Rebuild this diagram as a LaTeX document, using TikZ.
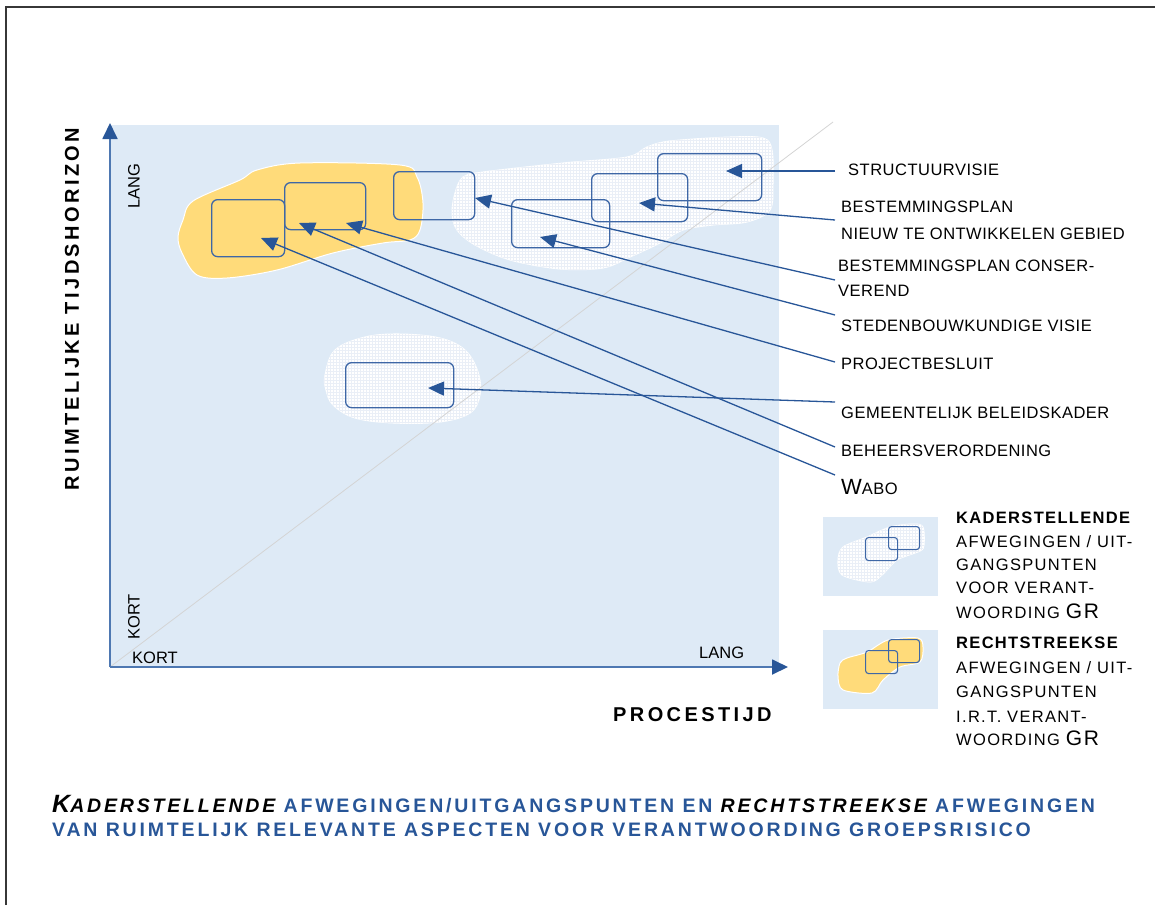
\documentclass[tikz,border=0pt]{standalone}
\usepackage{fontspec}
\setmainfont{Liberation Sans}
\newfontfamily\labfont[LetterSpace=3]{Liberation Sans}
\newfontfamily\legfont[LetterSpace=8]{Liberation Sans}
\newfontfamily\axfont[LetterSpace=17]{Liberation Sans}
\newfontfamily\capfont[LetterSpace=14.5]{Liberation Sans}
\usetikzlibrary{arrows.meta,patterns}

\definecolor{plotbg}{RGB}{222,234,246}
\definecolor{amber}{RGB}{255,219,122}
\definecolor{navy}{RGB}{40,86,152}
\definecolor{boxblue}{RGB}{62,103,166}
\definecolor{axisblue}{RGB}{78,120,178}
\definecolor{diagline}{RGB}{212,212,212}
\definecolor{gridtint}{RGB}{234,239,247}
\definecolor{framegray}{RGB}{55,55,55}

\tikzset{
  box/.style={draw=boxblue, line width=1.3pt, rounded corners=6pt, inner sep=0pt, anchor=north west},
  smallbox/.style={draw=boxblue, line width=1.1pt, rounded corners=3pt, inner sep=0pt, anchor=north west},
  ptr/.style={navy, line width=1.3pt, -{Triangle[length=16pt,width=14pt]}},
  axisarrow/.style={axisblue, line width=1.8pt, -{Triangle[length=16pt,width=15pt,color=navy]}},
  lab/.style={anchor=base west, inner sep=0pt, font=\labfont\fontsize{16.5}{18}\selectfont},
  leg/.style={anchor=base west, inner sep=0pt, font=\legfont\fontsize{16.5}{18}\selectfont},
  endlab/.style={inner sep=0pt, font=\fontsize{16.5}{18}\selectfont},
  cloud/.style={preaction={fill=white, draw=white, line width=1pt}, pattern=grid, pattern color=gridtint},
  goldcloud/.style={fill=amber, draw=white, line width=1pt},
  axtitle/.style={inner sep=0pt, font=\axfont\bfseries\fontsize{20}{20}\selectfont},
  captext/.style={anchor=base west, inner sep=0pt, text=navy, font=\capfont\bfseries\fontsize{19.5}{20}\selectfont},
}

\begin{document}
\begin{tikzpicture}[x=1pt, y=-1pt]
\useasboundingbox (0,0) rectangle (1155,905);

% page frame
\draw[framegray, line width=1.5pt] (6,905) -- (6,7) -- (1155,7);

% plot area
\fill[plotbg] (110,125) rectangle (779,667);

% clouds of considerations
\path[goldcloud] plot[smooth cycle, tension=0.55] coordinates {
  (193,201) (240,180) (257,170) (300,163) (400,165) (417,177) (423,203)
  (420,230) (410,240) (383,243) (333,253) (277,270) (227,278) (197,275)
  (182,253) (178,237) (183,220)};
\path[cloud] plot[smooth cycle, tension=0.55] coordinates {
  (452,213) (455,193) (463,177) (483,172) (563,163) (627,157) (647,147)
  (670,141) (730,137) (763,138) (772,150) (773,183) (770,210) (747,222)
  (713,225) (683,230) (660,243) (630,257) (603,268) (560,269) (510,260)
  (475,245) (457,230)};
\path[cloud] plot[smooth cycle, tension=0.6] coordinates {
  (325,375) (335,350) (365,337) (400,334) (440,338) (465,350) (478,372)
  (480,395) (470,413) (440,422) (393,423) (355,418) (333,405) (326,390)};

% diagonal reference line
\coordinate (o) at (110,667);
\coordinate (d) at (833,122);
\draw[diagline, line width=0.8pt] (o) -- (d);

% axes
\coordinate (ytip) at (110,123);
\coordinate (xtip) at (788,667);
\draw[axisarrow] (o) -- (ytip);
\draw[axisarrow] (o) -- (xtip);

% instrument boxes
\node[box, minimum width=73pt, minimum height=57pt] (wabo) at (211,199) {};
\node[box, minimum width=81pt, minimum height=47pt] (proj) at (284,182) {};
\node[box, minimum width=81pt, minimum height=48pt] (bpc) at (393,171) {};
\node[box, minimum width=98pt, minimum height=48pt] (sted) at (511,199) {};
\node[box, minimum width=96pt, minimum height=48pt] (bpn) at (591,173) {};
\node[box, minimum width=104pt, minimum height=47pt] (sv) at (657,153) {};
\node[box, minimum width=108pt, minimum height=45pt] (gbk) at (345,362) {};

% labels
\node[lab] (lsv) at (848,175) {STRUCTUURVISIE};
\node[lab] (lbpn1) at (841,212) {BESTEMMINGSPLAN};
\node[lab] (lbpn2) at (841,239) {NIEUW TE ONTWIKKELEN GEBIED};
\node[lab] (lbpc1) at (838,271) {BESTEMMINGSPLAN CONSER-};
\node[lab] (lbpc2) at (838,296) {VEREND};
\node[lab] (lsted) at (841,331) {STEDENBOUWKUNDIGE VISIE};
\node[lab] (lproj) at (841,369) {PROJECTBESLUIT};
\node[lab] (lgbk) at (841,418) {GEMEENTELIJK BELEIDSKADER};
\node[lab] (lbv) at (841,456) {BEHEERSVERORDENING};
\node[lab] (lwabo) at (841,494) {{\fontsize{22}{22}\selectfont W}ABO};

% pointers from labels to boxes
\coordinate (s1) at (835,171);  \coordinate (t1) at (726,171);
\coordinate (s2) at (835,220);  \coordinate (t2) at (639,203);
\coordinate (s3) at (835,280);  \coordinate (t3) at (475,198);
\coordinate (s4) at (835,315);  \coordinate (t4) at (540,237);
\coordinate (s5) at (835,362);  \coordinate (t5) at (346,223);
\coordinate (s6) at (835,402);  \coordinate (t6) at (428,388);
\coordinate (s7) at (835,447);  \coordinate (t7) at (299,223);
\coordinate (s8) at (835,475);  \coordinate (t8) at (261,238);
\draw[ptr] (s1) -- (t1);
\draw[ptr] (s2) -- (t2);
\draw[ptr] (s3) -- (t3);
\draw[ptr] (s4) -- (t4);
\draw[ptr] (s5) -- (t5);
\draw[ptr] (s6) -- (t6);
\draw[ptr] (s7) -- (t7);
\draw[ptr] (s8) -- (t8);

% axis texts
\node[axtitle, rotate=90] (ylab) at (72,309) {RUIMTELIJKE TIJDSHORIZON};
\node[axtitle, anchor=base west] (xlab) at (613,721) {PROCESTIJD};
\node[endlab, rotate=90] (ylang) at (134,186) {LANG};
\node[endlab, rotate=90] (ykort) at (134,617) {KORT};
\node[endlab, anchor=base west] (xkort) at (132,663) {KORT};
\node[endlab, anchor=base west] (xlang) at (699,658) {LANG};

% legend: framing considerations
\fill[plotbg] (823,517) rectangle (938,596);
\path[cloud] plot[smooth cycle, tension=0.5] coordinates {
  (838,560) (843,547) (867,537) (890,527) (913,524) (923,527) (924,545)
  (920,551) (897,560) (882,575) (870,582) (842,575)};
\node[smallbox, minimum width=32pt, minimum height=23pt] (ka) at (865,537) {};
\node[smallbox, minimum width=31pt, minimum height=23pt] (kb) at (888,526) {};
\node[leg] (k1) at (956,523) {\bfseries KADERSTELLENDE};
\node[leg] (k2) at (956,547) {AFWEGINGEN / UIT-};
\node[leg] (k3) at (956,570) {GANGSPUNTEN};
\node[leg] (k4) at (956,593) {VOOR VERANT-};
\node[leg] (k5) at (956,618) {WOORDING {\fontsize{21}{21}\selectfont GR}};

% legend: direct considerations
\fill[plotbg] (823,630) rectangle (938,709);
\path[goldcloud] plot[smooth cycle, tension=0.5] coordinates {
  (838,677) (840,663) (847,658) (867,652) (888,640) (918,638) (923,647)
  (920,662) (900,667) (883,680) (872,693) (843,690)};
\node[smallbox, minimum width=32pt, minimum height=23pt] (ra) at (865,650) {};
\node[smallbox, minimum width=31pt, minimum height=23pt] (rb) at (888,639) {};
\node[leg] (r1) at (956,648) {\bfseries RECHTSTREEKSE};
\node[leg] (r2) at (956,673) {AFWEGINGEN / UIT-};
\node[leg] (r3) at (956,697) {GANGSPUNTEN};
\node[leg] (r4) at (956,722) {I.R.T. VERANT-};
\node[leg] (r5) at (956,745) {WOORDING {\fontsize{21}{21}\selectfont GR}};

% caption
\node[captext] (cap1) at (52,812)
  {{\color{black}\itshape{\fontsize{25}{25}\selectfont K}ADERSTELLENDE} AFWEGINGEN/UITGANGSPUNTEN EN {\color{black}\itshape RECHTSTREEKSE} AFWEGINGEN};
\node[captext] (cap2) at (52,836)
  {VAN RUIMTELIJK RELEVANTE ASPECTEN VOOR VERANTWOORDING GROEPSRISICO};
\end{tikzpicture}
\end{document}
